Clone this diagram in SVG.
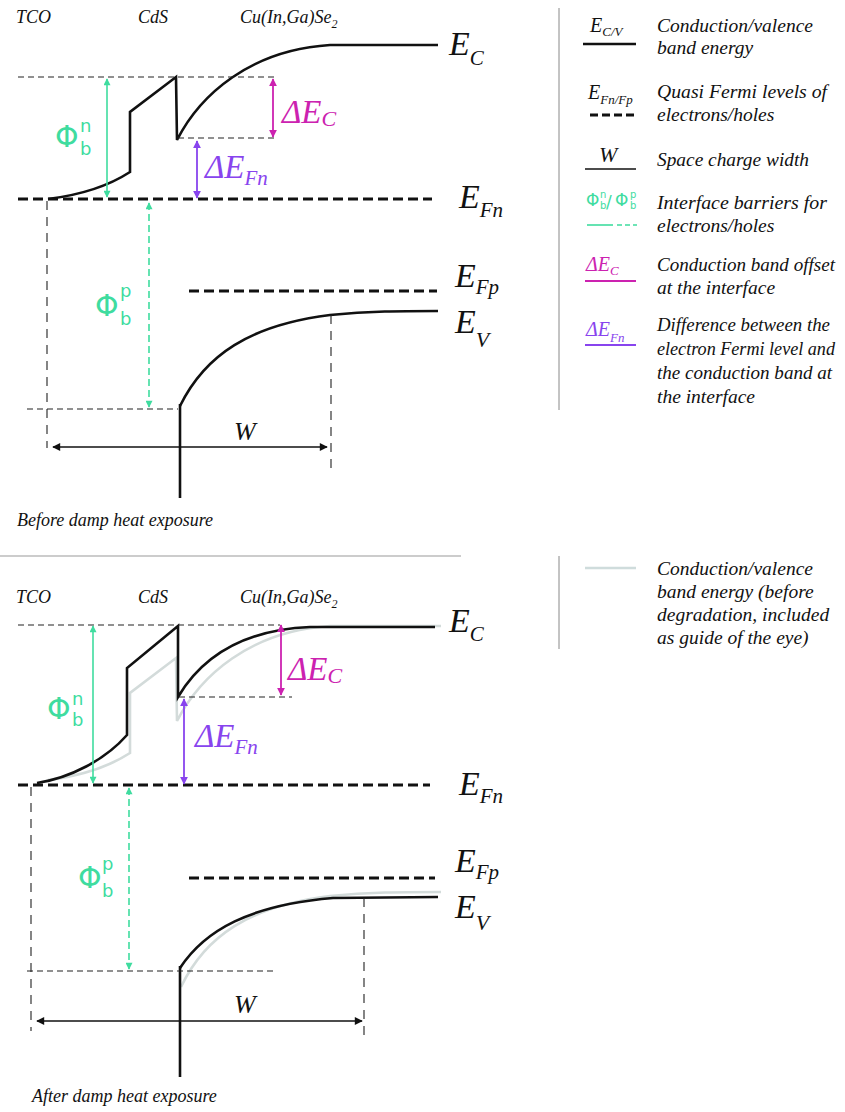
<svg xmlns="http://www.w3.org/2000/svg" width="845" height="1112" viewBox="0 0 845 1112">
<style>
text{font-family:"Liberation Serif","Times New Roman",serif;font-style:italic;fill:#111}
.sym{font-family:"DejaVu Sans","Noto Sans",sans-serif;font-style:normal}
.lbl{font-size:18px}
.leg{font-size:19.5px}
.big{font-size:34px}
.band{fill:none;stroke:#111;stroke-width:2.6;stroke-linejoin:miter}
.old{fill:none;stroke:#d3dbda;stroke-width:2.6}
.fermi{fill:none;stroke:#111;stroke-width:3;stroke-dasharray:10 5}
.thin{fill:none;stroke:#222;stroke-width:1.2;stroke-dasharray:6 4}
.vd{fill:none;stroke:#222;stroke-width:1.1;stroke-dasharray:9 7}
.green{fill:#3fdc9f}
.mag{fill:#cc22b0}
.pur{fill:#8844ee}
</style>
<defs>
<marker id="ag" viewBox="0 0 10 10" refX="9" refY="5" markerWidth="8" markerHeight="7" markerUnits="userSpaceOnUse" orient="auto-start-reverse"><path d="M0,0 L10,5 L0,10 z" fill="#3fdc9f"/></marker>
<marker id="am" viewBox="0 0 10 10" refX="9" refY="5" markerWidth="8" markerHeight="8" markerUnits="userSpaceOnUse" orient="auto-start-reverse"><path d="M0,0 L10,5 L0,10 z" fill="#cc22b0"/></marker>
<marker id="ap" viewBox="0 0 10 10" refX="9" refY="5" markerWidth="8" markerHeight="8" markerUnits="userSpaceOnUse" orient="auto-start-reverse"><path d="M0,0 L10,5 L0,10 z" fill="#8844ee"/></marker>
<marker id="ak" viewBox="0 0 10 10" refX="9" refY="5" markerWidth="9" markerHeight="8" markerUnits="userSpaceOnUse" orient="auto-start-reverse"><path d="M0,0 L10,5 L0,10 z" fill="#111"/></marker>
</defs>

<!-- ===== TOP PANEL ===== -->
<g id="top-layers">
<text class="lbl" x="16" y="23">TCO</text>
<text class="lbl" x="138" y="23">CdS</text>
<text class="lbl" x="240" y="23">Cu(In,Ga)Se<tspan font-size="12" dy="5">2</tspan></text>
</g>
<g id="top-bands">
<path class="band" d="M48,199 C80,195 110,185 130,172 L130,112 L176,77 L177,140 C200,95 250,50 330,45 L438,45"/>
<path class="band" d="M180,406 C205,355 250,325 330,315 C370,311 400,311 438,311"/>
<line x1="180" y1="404" x2="180" y2="498" stroke="#111" stroke-width="2.6"/>
<text class="big" x="449" y="55">E<tspan font-size="21" dy="10">C</tspan></text>
<text class="big" x="459" y="208">E<tspan font-size="21" dy="9">Fn</tspan></text>
<text class="big" x="455" y="287">E<tspan font-size="21" dy="7">Fp</tspan></text>
<text class="big" x="455" y="333">E<tspan font-size="22" dy="14">V</tspan></text>
</g>
<g id="top-levels">
<line class="fermi" x1="18" y1="199" x2="432" y2="199"/>
<line class="fermi" x1="189" y1="291" x2="437" y2="291"/>
<line class="thin" x1="18" y1="77" x2="277" y2="77"/>
<line class="thin" x1="178" y1="138" x2="276" y2="138"/>
<line class="thin" x1="27" y1="409" x2="178" y2="409"/>
<line class="vd" x1="47" y1="201" x2="47" y2="448"/>
<line class="vd" x1="331" y1="315" x2="331" y2="470"/>
</g>
<g id="top-connectors">
<line x1="107" y1="79" x2="107" y2="197" stroke="#3fdc9f" stroke-width="1.6" marker-start="url(#ag)" marker-end="url(#ag)"/>
<line x1="149" y1="203" x2="149" y2="407" stroke="#3fdc9f" stroke-width="1.6" stroke-dasharray="7 4" marker-start="url(#ag)" marker-end="url(#ag)"/>
<line x1="273" y1="79" x2="273" y2="137" stroke="#cc22b0" stroke-width="1.8" marker-start="url(#am)" marker-end="url(#am)"/>
<line x1="197" y1="141" x2="197" y2="198" stroke="#8844ee" stroke-width="1.8" marker-start="url(#ap)" marker-end="url(#ap)"/>
<line x1="53" y1="447" x2="327" y2="447" stroke="#111" stroke-width="1.6" marker-start="url(#ak)" marker-end="url(#ak)"/>
</g>
<g id="top-labels">
<text class="sym green" x="55" y="147" font-size="30">Φ</text>
<text class="sym green" x="80" y="132" font-size="18">n</text>
<text class="sym green" x="80" y="155" font-size="18">b</text>
<text class="sym green" x="95" y="316" font-size="30">Φ</text>
<text class="sym green" x="120" y="297" font-size="18">p</text>
<text class="sym green" x="120" y="325" font-size="18">b</text>
<text class="mag" x="282" y="123" font-size="33">ΔE<tspan font-size="22" dy="3">C</tspan></text>
<text class="pur" x="205" y="178" font-size="33">ΔE<tspan font-size="21" dy="7">Fn</tspan></text>
<text x="234" y="440" font-size="26">W</text>
<text class="lbl" x="17" y="526">Before damp heat exposure</text>
</g>

<line id="separator" x1="0" y1="556" x2="461" y2="556" stroke="#999" stroke-width="1.2"/>

<!-- ===== TOP LEGEND ===== -->
<g id="legend-top">
<line x1="559" y1="8" x2="559" y2="410" stroke="#888" stroke-width="1"/>
<g id="leg-band">
<text x="590" y="32" font-size="20">E<tspan font-size="13" dy="4">C/V</tspan></text>
<line x1="583" y1="44" x2="636" y2="44" stroke="#111" stroke-width="2.6"/>
<text class="leg" x="657" y="32" textLength="156" lengthAdjust="spacingAndGlyphs">Conduction/valence</text>
<text class="leg" x="657" y="54">band energy</text>
</g>
<g id="leg-fermi">
<text x="588" y="99" font-size="20">E<tspan font-size="13" dy="5">Fn/Fp</tspan></text>
<line x1="590" y1="115" x2="637" y2="115" stroke="#111" stroke-width="3" stroke-dasharray="8 4"/>
<text class="leg" x="657" y="98" textLength="170" lengthAdjust="spacingAndGlyphs">Quasi Fermi levels of</text>
<text class="leg" x="657" y="121">electrons/holes</text>
</g>
<g id="leg-w">
<text x="599" y="162" font-size="22">W</text>
<line x1="585" y1="169" x2="636" y2="169" stroke="#111" stroke-width="1.6"/>
<text class="leg" x="657" y="166" textLength="152" lengthAdjust="spacingAndGlyphs">Space charge width</text>
</g>
<g id="leg-phi">
<text class="sym green" x="586" y="206" font-size="17">Φ</text>
<text class="sym green" x="600" y="198" font-size="10">n</text>
<text class="sym green" x="600" y="209" font-size="10">b</text>
<text class="sym green" x="606" y="208" font-size="17">/</text>
<text class="sym green" x="615" y="206" font-size="17">Φ</text>
<text class="sym green" x="630" y="198" font-size="10">p</text>
<text class="sym green" x="630" y="209" font-size="10">b</text>
<line x1="587" y1="225" x2="613" y2="225" stroke="#3fdc9f" stroke-width="1.6"/>
<line x1="617" y1="225" x2="637" y2="225" stroke="#3fdc9f" stroke-width="1.6" stroke-dasharray="5 3"/>
<text class="leg" x="657" y="209" textLength="170" lengthAdjust="spacingAndGlyphs">Interface barriers for</text>
<text class="leg" x="657" y="232">electrons/holes</text>
</g>
<g id="leg-dec">
<text class="mag" x="586" y="271" font-size="20">ΔE<tspan font-size="13" dy="4">C</tspan></text>
<line x1="585" y1="281" x2="636" y2="281" stroke="#cc22b0" stroke-width="1.8"/>
<text class="leg" x="657" y="271" textLength="178" lengthAdjust="spacingAndGlyphs">Conduction band offset</text>
<text class="leg" x="657" y="294">at the interface</text>
</g>
<g id="leg-defn">
<text class="pur" x="586" y="336" font-size="20">ΔE<tspan font-size="13" dy="6">Fn</tspan></text>
<line x1="585" y1="345" x2="636" y2="345" stroke="#8844ee" stroke-width="1.8"/>
<text class="leg" x="657" y="331" textLength="173" lengthAdjust="spacingAndGlyphs">Difference between the</text>
<text x="657" y="355" font-size="18.5" textLength="178" lengthAdjust="spacingAndGlyphs">electron Fermi level and</text>
<text class="leg" x="657" y="379" textLength="175" lengthAdjust="spacingAndGlyphs">the conduction band at</text>
<text class="leg" x="657" y="403">the interface</text>
</g>
</g>

<!-- ===== BOTTOM PANEL ===== -->
<g id="bottom-layers">
<text class="lbl" x="16" y="603">TCO</text>
<text class="lbl" x="138" y="603">CdS</text>
<text class="lbl" x="240" y="603">Cu(In,Ga)Se<tspan font-size="12" dy="5">2</tspan></text>
</g>
<g id="bottom-old-bands">
<path class="old" d="M48,780 C80,776 110,766 130,753 L130,693 L176,658 L177,721 C200,676 250,631 330,626 L441,626"/>
<path class="old" d="M181,987 C205,936 250,906 330,896 C370,892 400,892 441,892"/>
</g>
<g id="bottom-bands">
<path class="band" d="M37,783 C70,778 105,760 127,735 L127,668 L178,626 L178,697 C200,660 240,630 310,627 L435,627"/>
<path class="band" d="M180,968 C205,930 250,905 333,898 L438,897"/>
<line x1="180" y1="966" x2="180" y2="1077" stroke="#111" stroke-width="2.6"/>
<text class="big" x="449" y="632">E<tspan font-size="21" dy="9">C</tspan></text>
<text class="big" x="459" y="795">E<tspan font-size="21" dy="8">Fn</tspan></text>
<text class="big" x="455" y="872">E<tspan font-size="21" dy="7">Fp</tspan></text>
<text class="big" x="455" y="918">E<tspan font-size="22" dy="12">V</tspan></text>
</g>
<g id="bottom-levels">
<line class="fermi" x1="18" y1="785" x2="430" y2="785"/>
<line class="fermi" x1="189" y1="878" x2="435" y2="878"/>
<line class="thin" x1="18" y1="625" x2="280" y2="625"/>
<line class="thin" x1="179" y1="697" x2="292" y2="697"/>
<line class="thin" x1="27" y1="971" x2="277" y2="971"/>
<line class="vd" x1="31" y1="787" x2="31" y2="1031"/>
<line class="vd" x1="364" y1="898" x2="364" y2="1036"/>
</g>
<g id="bottom-connectors">
<line x1="93" y1="626" x2="93" y2="783" stroke="#3fdc9f" stroke-width="1.6" marker-start="url(#ag)" marker-end="url(#ag)"/>
<line x1="129" y1="788" x2="129" y2="969" stroke="#3fdc9f" stroke-width="1.6" stroke-dasharray="7 4" marker-start="url(#ag)" marker-end="url(#ag)"/>
<line x1="281" y1="625" x2="281" y2="695" stroke="#cc22b0" stroke-width="1.8" marker-start="url(#am)" marker-end="url(#am)"/>
<line x1="184" y1="699" x2="184" y2="784" stroke="#8844ee" stroke-width="1.8" marker-start="url(#ap)" marker-end="url(#ap)"/>
<line x1="37" y1="1021" x2="362" y2="1021" stroke="#111" stroke-width="1.6" marker-start="url(#ak)" marker-end="url(#ak)"/>
</g>
<g id="bottom-labels">
<text class="sym green" x="47" y="719" font-size="30">Φ</text>
<text class="sym green" x="72" y="705" font-size="18">n</text>
<text class="sym green" x="72" y="726" font-size="18">b</text>
<text class="sym green" x="78" y="888" font-size="30">Φ</text>
<text class="sym green" x="102" y="870" font-size="18">p</text>
<text class="sym green" x="102" y="897" font-size="18">b</text>
<text class="mag" x="288" y="680" font-size="33">ΔE<tspan font-size="22" dy="3">C</tspan></text>
<text class="pur" x="195" y="747" font-size="33">ΔE<tspan font-size="21" dy="7">Fn</tspan></text>
<text x="234" y="1013" font-size="26">W</text>
<text class="lbl" x="32" y="1102">After damp heat exposure</text>
</g>

<!-- ===== BOTTOM LEGEND ===== -->
<g id="legend-bottom">
<line x1="559" y1="556" x2="559" y2="649" stroke="#888" stroke-width="1"/>
<line x1="585" y1="568" x2="636" y2="568" stroke="#cfdcdc" stroke-width="2.6"/>
<text class="leg" x="657" y="575" textLength="156" lengthAdjust="spacingAndGlyphs">Conduction/valence</text>
<text class="leg" x="657" y="598">band energy (before</text>
<text class="leg" x="657" y="621">degradation, included</text>
<text class="leg" x="657" y="644">as guide of the eye)</text>
</g>
</svg>
